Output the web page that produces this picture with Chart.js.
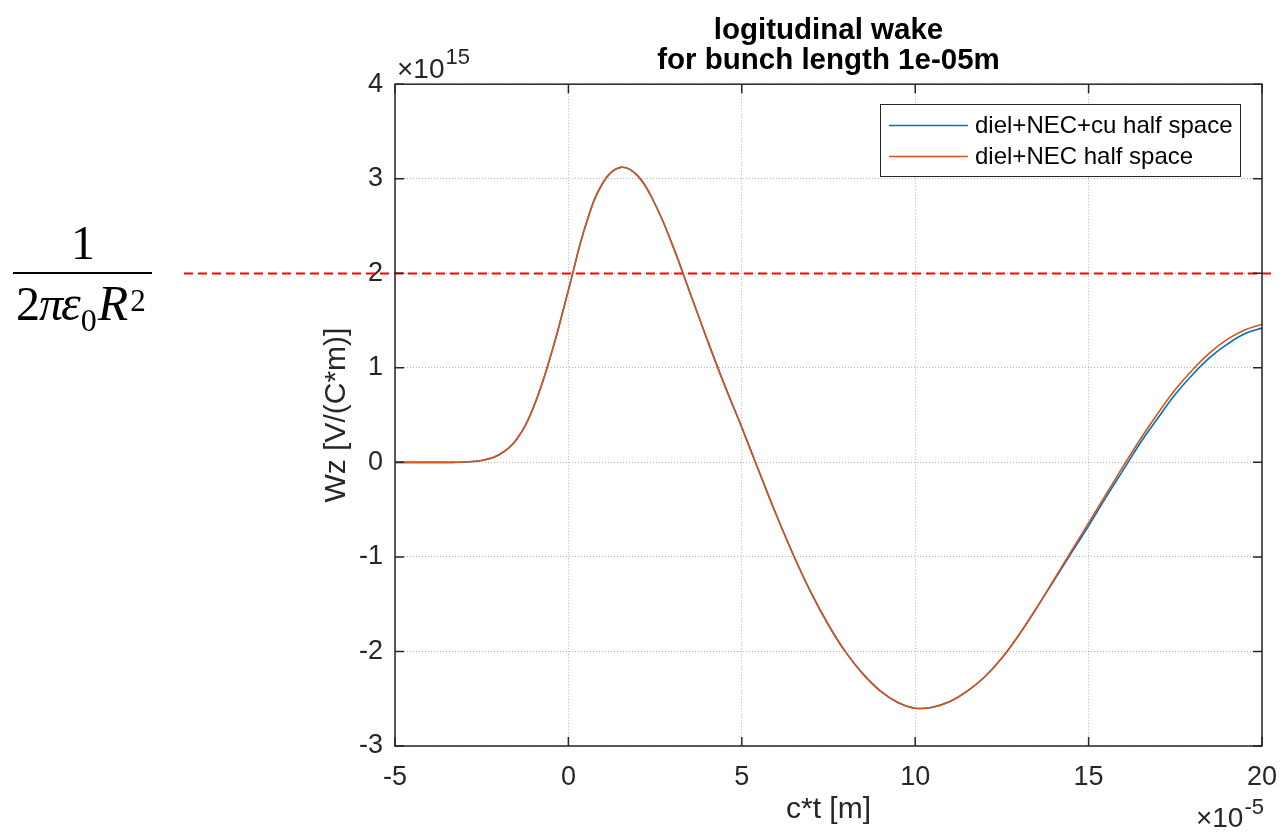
<!DOCTYPE html>
<html>
<head>
<meta charset="utf-8">
<title>logitudinal wake</title>
<script src="https://cdn.jsdelivr.net/npm/chart.js@4.4.1/dist/chart.umd.min.js"></script>
<style>
  html, body { margin: 0; padding: 0; background: #fff; }
</style>
</head>
<body>
<canvas id="wakeChart" width="1282" height="835"></canvas>
<script>
// c*t in units of 1e-5 m
const ctPos = [-5, -4.5, -4, -3.5, -3, -2.5, -2, -1.5, -1, -0.5,
  0, 0.5, 1, 1.5, 2, 2.5, 3, 3.5, 4, 4.5,
  5, 5.5, 6, 6.5, 7, 7.5, 8, 8.5, 9, 9.5,
  10, 10.5, 11, 11.5, 12, 12.5, 13, 13.5, 14, 14.5,
  15, 15.5, 16, 16.5, 17, 17.5, 18, 18.5, 19, 19.5, 20];

// Wz in units of 1e15 V/(C*m)
const wakeCuHalf = [0, 0, 0, 0, 0.004, 0.02, 0.08, 0.24, 0.59, 1.14,
  1.82, 2.51, 2.96, 3.12, 3.03, 2.73, 2.3, 1.8, 1.3, 0.82,
  0.37, -0.1, -0.56, -0.99, -1.38, -1.72, -2.01, -2.24, -2.42, -2.54,
  -2.6, -2.59, -2.53, -2.42, -2.27, -2.07, -1.82, -1.54, -1.25, -0.96,
  -0.67, -0.37, -0.08, 0.21, 0.47, 0.72, 0.93, 1.11, 1.25, 1.36, 1.42];

const wakeNecHalf = [0, 0, 0, 0, 0.004, 0.02, 0.08, 0.24, 0.59, 1.14,
  1.82, 2.51, 2.96, 3.12, 3.03, 2.73, 2.3, 1.8, 1.3, 0.82,
  0.37, -0.1, -0.56, -0.99, -1.38, -1.72, -2.01, -2.24, -2.42, -2.54,
  -2.6, -2.59, -2.53, -2.42, -2.27, -2.07, -1.82, -1.54, -1.24, -0.94,
  -0.64, -0.34, -0.04, 0.25, 0.52, 0.77, 0.98, 1.16, 1.3, 1.4, 1.46];

const seriesNames = ['diel+NEC+cu half space', 'diel+NEC half space'];
const seriesColors = ['#0072BD', '#D95319'];
const xTicks = [-5, 0, 5, 10, 15, 20];
const yTicks = [-3, -2, -1, 0, 1, 2, 3, 4];
// 1/(2*pi*eps0*R^2), same units as Wz
const refLevel = 2;

const SANS = '"Liberation Sans", Arial, Helvetica, sans-serif';
const SERIF = '"Liberation Serif", "Times New Roman", serif';
const AXIS_COLOR = '#262626';

function toPoints(values) {
    return ctPos.map((c, i) => ({ x: c, y: values[i] }));
}

// reference line, drawn under the axes
const refLine = {
    id: 'refLine',
    beforeDatasetsDraw(chart) {
        const { ctx, scales: { y } } = chart;
        const yRef = Math.round(y.getPixelForValue(refLevel)) + 0.5;
        ctx.save();
        ctx.strokeStyle = '#ff0000';
        ctx.lineWidth = 2;
        ctx.setLineDash([9, 5]);
        ctx.beginPath();
        ctx.moveTo(184, yRef);
        ctx.lineTo(1271, yRef);
        ctx.stroke();
        ctx.restore();
    }
};

// box, inward tick marks, legend, exponents and the formula
const decorations = {
    id: 'decorations',
    afterDatasetsDraw(chart) {
        const { ctx, chartArea: a, scales: { x, y } } = chart;
        ctx.save();

        ctx.strokeStyle = AXIS_COLOR;
        ctx.lineWidth = 1.5;
        ctx.strokeRect(a.left, a.top, a.right - a.left, a.bottom - a.top);

        const tick = 9;
        ctx.beginPath();
        xTicks.forEach(v => {
            const px = x.getPixelForValue(v);
            ctx.moveTo(px, a.bottom); ctx.lineTo(px, a.bottom - tick);
            ctx.moveTo(px, a.top); ctx.lineTo(px, a.top + tick);
        });
        yTicks.forEach(v => {
            const py = y.getPixelForValue(v);
            ctx.moveTo(a.left, py); ctx.lineTo(a.left + tick, py);
            ctx.moveTo(a.right, py); ctx.lineTo(a.right - tick, py);
        });
        ctx.stroke();

        // legend
        const lg = { left: 880.5, top: 104.5, width: 360, height: 72 };
        ctx.fillStyle = '#fff';
        ctx.fillRect(lg.left, lg.top, lg.width, lg.height);
        ctx.lineWidth = 1;
        ctx.strokeStyle = AXIS_COLOR;
        ctx.strokeRect(lg.left, lg.top, lg.width, lg.height);
        const rows = [125.5, 156.5];
        ctx.font = '24px ' + SANS;
        ctx.textBaseline = 'middle';
        ctx.textAlign = 'left';
        seriesNames.forEach((name, i) => {
            ctx.strokeStyle = seriesColors[i];
            ctx.lineWidth = 1.5;
            ctx.beginPath();
            ctx.moveTo(889, rows[i]);
            ctx.lineTo(968, rows[i]);
            ctx.stroke();
            ctx.fillStyle = '#000';
            ctx.fillText(name, 975, rows[i] + 1);
        });

        // axis exponents
        ctx.fillStyle = AXIS_COLOR;
        ctx.textBaseline = 'alphabetic';
        ctx.font = '28px ' + SANS;
        ctx.fillText('\u00d710', 397, 78);
        let w = ctx.measureText('\u00d710').width;
        ctx.font = '22px ' + SANS;
        ctx.fillText('15', 397 + w + 1, 64);

        ctx.font = '22px ' + SANS;
        const expW = ctx.measureText('-5').width;
        ctx.font = '28px ' + SANS;
        w = ctx.measureText('\u00d710').width;
        const x0 = 1264 - expW - w - 1;
        ctx.fillText('\u00d710', x0, 827);
        ctx.font = '22px ' + SANS;
        ctx.fillText('-5', x0 + w + 1, 814);

        // 1 / (2 pi eps0 R^2)
        ctx.fillStyle = '#000';
        ctx.font = '48px ' + SERIF;
        ctx.textAlign = 'center';
        ctx.fillText('1', 83, 259);
        ctx.fillRect(13, 272, 139, 2);
        ctx.textAlign = 'left';
        let cx = 16;
        const put = (txt, font, base, gap) => {
            ctx.font = font;
            ctx.fillText(txt, cx, base);
            cx += ctx.measureText(txt).width + gap;
        };
        put('2', '48px ' + SERIF, 320, -1);
        put('\u03c0', 'italic 48px ' + SERIF, 320, -2);
        put('\u03b5', 'italic 50px ' + SERIF, 320, 0);
        put('0', '32px ' + SERIF, 331, 1);
        put('R', 'italic 50px ' + SERIF, 320, 2);
        put('2', '31px ' + SERIF, 311, 0);

        ctx.restore();
    }
};

const gridStyle = { color: 'rgba(38,38,38,0.35)', lineWidth: 1, drawTicks: false };

new Chart(document.getElementById('wakeChart').getContext('2d'), {
    type: 'line',
    data: {
        datasets: [{
            label: seriesNames[0],
            data: toPoints(wakeCuHalf),
            borderColor: seriesColors[0],
            borderWidth: 1.6,
            pointRadius: 0,
            fill: false,
            tension: 0.4,
            order: 1
        }, {
            label: seriesNames[1],
            data: toPoints(wakeNecHalf),
            borderColor: seriesColors[1],
            borderWidth: 1.6,
            pointRadius: 0,
            fill: false,
            tension: 0.4,
            order: 0
        }]
    },
    options: {
        responsive: false,
        animation: false,
        layout: { padding: { left: 297, right: 20, top: 0, bottom: 0 } },
        plugins: {
            legend: { display: false },
            tooltip: { enabled: false },
            title: {
                display: true,
                fullSize: false,
                text: ['logitudinal wake', 'for bunch length 1e-05m'],
                color: '#000',
                font: { family: SANS, size: 29.5, weight: 'bold', lineHeight: 1.02 },
                padding: { top: 16, bottom: 8 }
            }
        },
        scales: {
            x: {
                type: 'linear',
                min: -5,
                max: 20,
                afterBuildTicks: s => { s.ticks = xTicks.map(v => ({ value: v })); },
                afterFit: s => { s.height = 89; s.paddingLeft = 0; s.paddingRight = 0; },
                ticks: { color: AXIS_COLOR, font: { family: SANS, size: 27 }, padding: 15, maxRotation: 0 },
                grid: gridStyle,
                border: { display: false, dash: [1, 2] },
                title: {
                    display: true,
                    text: 'c*t [m]',
                    color: AXIS_COLOR,
                    font: { family: SANS, size: 30 },
                    padding: { top: 0, bottom: 7 }
                }
            },
            y: {
                type: 'linear',
                min: -3,
                max: 4,
                afterBuildTicks: s => { s.ticks = yTicks.map(v => ({ value: v })); },
                afterFit: s => { s.width = 98; s.paddingTop = 0; s.paddingBottom = 0; },
                ticks: { color: AXIS_COLOR, font: { family: SANS, size: 27 }, padding: 12 },
                grid: gridStyle,
                border: { display: false, dash: [1, 2] },
                title: {
                    display: true,
                    text: 'Wz [V/(C*m)]',
                    color: AXIS_COLOR,
                    font: { family: SANS, size: 30 },
                    padding: { top: 22, bottom: 0 }
                }
            }
        }
    },
    plugins: [refLine, decorations]
});
</script>
</body>
</html>
